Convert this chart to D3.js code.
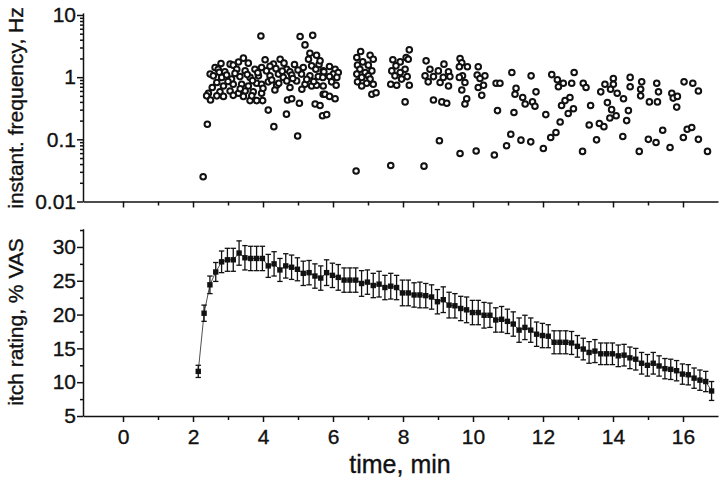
<!DOCTYPE html>
<html>
<head>
<meta charset="utf-8">
<script src="https://cdn.jsdelivr.net/npm/d3@7"></script>
<style>
body { margin: 0; background: #fff; }
svg { display: block; font-family: "Liberation Sans", Arial, sans-serif; }
.axis path, .axis line { stroke: #111; stroke-width: 1.5; }
.axis text { font-size: 21px; fill: #111; stroke: #111; stroke-width: 0.35; font-family: "Liberation Sans", Arial, sans-serif; }
.title { font-size: 21px; fill: #111; stroke: #111; stroke-width: 0.35; }
</style>
</head>
<body>
<svg width="720" height="481"></svg>
<script>
// x axis, minutes
var majorX = [0, 2, 4, 6, 8, 10, 12, 14, 16];
var minorX = [1, 3, 5, 7, 9, 11, 13, 15];

// top panel: instantaneous frequency, [time min, Hz]
var freqTicks = [0.01, 0.1, 1, 10];
var freqPoints = [
    [3.44, 2.02], [2.80, 1.66], [3.06, 1.62], [3.15, 1.56], [4.06, 1.90], [4.49, 1.94], [5.34, 2.43], [5.53, 2.25],
    [5.30, 1.94], [4.30, 1.62], [4.60, 1.68], [3.58, 1.68],
    [2.63, 1.43], [2.72, 1.34], [2.91, 1.22], [3.25, 1.34], [3.49, 1.26], [3.77, 1.34], [3.96, 1.43], [4.10, 1.26],
    [4.37, 1.37], [4.68, 1.34], [4.77, 1.22], [5.15, 1.43], [5.39, 1.52], [5.51, 1.34], [5.72, 1.26],
    [2.49, 1.12], [2.58, 1.05], [2.82, 0.99], [2.96, 1.08], [3.10, 0.93], [3.34, 1.02], [3.63, 0.99], [3.87, 1.05],
    [4.20, 1.05], [4.44, 1.12], [4.58, 0.99], [4.82, 1.08], [5.10, 1.12], [5.34, 1.05], [5.58, 1.02],
    [2.68, 0.82], [2.87, 0.72], [3.15, 0.77], [3.39, 0.77], [3.58, 0.72], [3.82, 0.80], [3.96, 0.77], [4.15, 0.84],
    [4.39, 0.74], [4.68, 0.87], [4.96, 0.87], [5.20, 0.77], [5.39, 0.72], [5.53, 0.74], [5.72, 0.72],
    [2.44, 0.55], [2.77, 0.58], [3.06, 0.60], [3.30, 0.55], [3.49, 0.60], [3.72, 0.58], [3.96, 0.55], [4.77, 0.68],
    [5.72, 0.53],
    [2.39, 0.50], [2.50, 0.43], [2.68, 0.50], [2.87, 0.49], [3.15, 0.51], [3.44, 0.49], [3.63, 0.42], [3.82, 0.42],
    [3.99, 0.42], [3.68, 0.50],
    [2.55, 0.68], [2.75, 1.20], [3.00, 0.85], [3.20, 1.15], [3.35, 0.65], [3.55, 1.10], [3.70, 0.88], [3.85, 1.18],
    [4.00, 0.66], [4.25, 0.90], [4.45, 0.80], [4.55, 1.25], [4.85, 0.95], [5.00, 1.30], [5.25, 0.92], [5.45, 0.85],
    [5.60, 1.60], [4.90, 1.60], [4.20, 1.50], [3.30, 1.75],
    [2.29, 0.025], [2.41, 0.175], [3.94, 4.6], [5.06, 4.5], [5.42, 4.7], [5.20, 3.3], [4.15, 0.295], [4.31, 0.16],
    [4.67, 0.254], [4.99, 0.113], [4.70, 0.43], [4.82, 0.45], [5.04, 0.38], [5.49, 0.37], [5.63, 0.35], [5.70, 0.24],
    [5.11, 0.64], [4.34, 0.62],
    [5.63, 1.83], [5.90, 1.48], [6.06, 1.34], [5.74, 1.22], [6.01, 1.12], [6.15, 1.19], [5.71, 0.99], [5.90, 1.02],
    [6.11, 0.99], [5.96, 0.84], [6.09, 0.74], [5.77, 0.53], [5.90, 0.49], [6.06, 0.45], [5.82, 0.25],
    [6.79, 2.58], [7.06, 2.25], [6.68, 2.07], [7.15, 1.94], [6.85, 1.76], [6.70, 1.56], [7.01, 1.56], [6.77, 1.34],
    [7.11, 1.26], [6.92, 1.19], [6.68, 1.12], [7.01, 1.05], [6.82, 0.99], [7.06, 0.93], [6.70, 0.84], [6.96, 0.80],
    [7.15, 0.77], [6.82, 0.72], [7.11, 0.53], [7.23, 0.56], [6.66, 0.031],
    [8.18, 2.75], [8.09, 2.07], [7.71, 1.90], [7.92, 1.76], [8.15, 1.94], [7.80, 1.52], [8.06, 1.34], [7.68, 1.26],
    [7.92, 1.19], [7.77, 1.05], [8.12, 1.02], [7.96, 0.93], [7.65, 0.77], [7.82, 0.74], [8.18, 0.74], [8.06, 0.40],
    [7.65, 0.038],
    [8.66, 1.83], [9.17, 1.62], [8.77, 1.34], [9.01, 1.26], [9.30, 1.22], [8.63, 1.05], [8.87, 1.02], [9.15, 0.99],
    [9.34, 1.02], [8.72, 0.84], [9.06, 0.82], [9.30, 0.72], [8.87, 0.43], [9.11, 0.40], [9.25, 0.38], [9.04, 0.095],
    [8.60, 0.037],
    [9.63, 1.99], [9.68, 1.70], [9.84, 1.47], [9.61, 1.47], [10.15, 1.47], [9.70, 1.05], [10.12, 1.08], [10.34, 1.05],
    [9.61, 0.99], [10.20, 0.95], [9.77, 0.82], [10.30, 0.74], [10.15, 0.68], [9.68, 0.62], [10.25, 0.51], [9.82, 0.45],
    [9.77, 0.37], [10.66, 0.80], [10.77, 0.80], [11.11, 1.19], [11.66, 1.05], [12.25, 1.10], [12.89, 1.19], [12.41, 0.91],
    [12.58, 0.80], [12.82, 0.80], [13.15, 0.80], [12.44, 0.70], [11.23, 0.66], [11.20, 0.53], [11.42, 0.47], [11.80, 0.58],
    [11.49, 0.37], [11.70, 0.40], [11.77, 0.34], [10.70, 0.29], [11.17, 0.27], [12.08, 0.25], [12.53, 0.35], [12.63, 0.42],
    [12.77, 0.47], [12.87, 0.31], [12.72, 0.26], [12.49, 0.19], [12.37, 0.129], [12.22, 0.107], [11.08, 0.121], [10.96, 0.079],
    [11.37, 0.097], [11.65, 0.091], [12.01, 0.071], [10.61, 0.056], [10.09, 0.065], [9.63, 0.059], [13.13, 0.064],
    [13.23, 0.68], [13.77, 0.77], [14.01, 0.95], [14.01, 0.77], [14.49, 0.99], [14.49, 0.70], [14.82, 0.84], [15.25, 0.80],
    [16.03, 0.84], [16.28, 0.80], [16.44, 0.60], [13.65, 0.58], [13.93, 0.64], [14.12, 0.55], [14.30, 0.45], [13.84, 0.39],
    [14.79, 0.64], [14.79, 0.50], [15.04, 0.40], [15.30, 0.58], [15.27, 0.40], [15.68, 0.55], [15.72, 0.46], [15.84, 0.49],
    [15.82, 0.33], [13.36, 0.35], [13.96, 0.30], [14.09, 0.24], [14.44, 0.29], [13.91, 0.22], [14.39, 0.20], [13.61, 0.18],
    [13.74, 0.16], [13.32, 0.17], [15.42, 0.14], [16.12, 0.145], [16.25, 0.155], [13.53, 0.098], [14.28, 0.111], [15.01, 0.10],
    [15.23, 0.089], [16.01, 0.107], [16.44, 0.10], [14.75, 0.064], [15.63, 0.074], [16.70, 0.064]
];

// bottom panel: itch rating (% VAS), every 10 s
var itchTicks = [5, 10, 15, 20, 25, 30];
var itchMinor = [7.5, 12.5, 17.5, 22.5, 27.5, 32.5];
var itchSec = [129, 139, 149, 159, 169, 179, 189, 199, 209, 219, 229, 239, 249, 259, 269, 279, 289, 299, 309, 319,
    329, 339, 349, 359, 369, 379, 389, 399, 409, 419, 429, 439, 449, 459, 469, 479, 489, 499, 509, 519,
    529, 539, 549, 559, 569, 579, 589, 599, 609, 619, 629, 639, 649, 659, 669, 679, 689, 699, 709, 719,
    729, 739, 749, 759, 769, 779, 789, 799, 809, 819, 829, 839, 849, 859, 869, 879, 889, 899, 909, 919,
    929, 939, 949, 959, 969, 979, 989, 999, 1009];
var itchMean = [11.6, 20.2, 24.4, 26.3, 27.8, 28.1, 28.1, 29.1, 28.4, 28.3, 28.3, 28.3, 27.2, 27.5, 26.6, 27.2, 27.0, 26.7, 26.1, 26.2,
    25.7, 25.4, 26.2, 25.8, 25.5, 25.1, 25.1, 25.1, 24.6, 24.8, 24.3, 24.5, 24.0, 24.2, 24.0, 23.2, 23.2, 22.9, 22.9, 22.8,
    22.6, 21.9, 22.2, 21.4, 21.3, 20.9, 20.7, 20.3, 20.3, 19.9, 19.9, 19.2, 19.3, 19.0, 18.6, 17.7, 18.1, 17.7, 17.1, 16.9,
    16.8, 15.9, 15.9, 15.9, 15.8, 15.3, 14.9, 14.4, 14.6, 14.2, 14.2, 14.2, 13.9, 14.0, 13.6, 13.4, 12.8, 12.5, 12.8, 12.4,
    12.0, 11.9, 11.7, 11.2, 11.1, 10.6, 10.3, 10.1, 8.7];
var itchErr = [0.9, 1.2, 1.3, 1.4, 1.6, 1.7, 1.7, 1.8, 1.8, 1.8, 1.8, 1.8, 1.7, 1.8, 1.7, 1.8, 1.8, 1.7, 1.8, 1.8,
    1.8, 1.8, 1.9, 1.8, 1.9, 1.8, 1.8, 1.8, 1.9, 1.8, 1.8, 1.9, 1.8, 1.9, 1.8, 1.9, 1.9, 1.8, 1.9, 1.8,
    1.8, 1.8, 1.9, 1.9, 1.8, 1.8, 1.9, 1.8, 1.8, 1.9, 1.8, 1.8, 1.9, 1.8, 1.8, 1.8, 1.8, 1.8, 1.8, 1.8,
    1.7, 1.7, 1.7, 1.7, 1.7, 1.6, 1.6, 1.6, 1.7, 1.6, 1.6, 1.6, 1.6, 1.6, 1.6, 1.6, 1.6, 1.6, 1.6, 1.5,
    1.5, 1.5, 1.5, 1.5, 1.5, 1.5, 1.5, 1.5, 1.4];

var svg = d3.select("svg");

var x = d3.scaleLinear()
    .domain([-1.143, 17])
    .range([83, 718]);

var yTop = d3.scaleLog()
    .domain([0.01, 10.8])
    .range([201.5, 12.9]);

var yBot = d3.scaleLinear()
    .domain([5, 32.7])
    .range([416, 228.7]);

// ---- axes ----
function xAxes(yPos, withLabels) {
    var g = svg.append("g")
        .attr("class", "axis")
        .attr("transform", "translate(0," + yPos + ")")
        .call(d3.axisBottom(x).tickValues(majorX).tickSize(6).tickSizeOuter(0).tickPadding(7)
            .tickFormat(withLabels ? function(d) { return d; } : ""));
    svg.append("g")
        .attr("class", "axis")
        .attr("transform", "translate(0," + yPos + ")")
        .call(d3.axisBottom(x).tickValues(minorX).tickSize(4).tickSizeOuter(0).tickFormat(""))
        .select(".domain").remove();
    return g;
}

xAxes(yTop(0.01), false);
xAxes(yBot(5), true);

svg.append("g")
    .attr("class", "axis")
    .attr("transform", "translate(" + x.range()[0] + ",0)")
    .call(d3.axisLeft(yTop).tickValues(freqTicks).tickSize(6).tickSizeOuter(0).tickPadding(1)
        .tickFormat(function(d) { return String(d); }));

svg.append("g")
    .attr("class", "axis")
    .attr("transform", "translate(" + x.range()[0] + ",0)")
    .call(d3.axisLeft(yTop).tickValues(yTop.ticks().filter(function(d) {
            return freqTicks.indexOf(d) < 0 && d < 10;
        })).tickSize(3).tickFormat(""))
    .select(".domain").remove();

svg.append("g")
    .attr("class", "axis")
    .attr("transform", "translate(" + x.range()[0] + ",0)")
    .call(d3.axisLeft(yBot).tickValues(itchTicks).tickSize(6).tickSizeOuter(0).tickPadding(1));

svg.append("g")
    .attr("class", "axis")
    .attr("transform", "translate(" + x.range()[0] + ",0)")
    .call(d3.axisLeft(yBot).tickValues(itchMinor).tickSize(3).tickFormat(""))
    .select(".domain").remove();

// ---- titles ----
svg.append("text")
    .attr("class", "title")
    .attr("text-anchor", "middle")
    .attr("transform", "translate(23,108) rotate(-90)")
    .text("instant. frequency, Hz");

svg.append("text")
    .attr("class", "title")
    .attr("text-anchor", "middle")
    .attr("transform", "translate(23,322) rotate(-90)")
    .text("itch rating, % VAS");

svg.append("text")
    .attr("class", "title")
    .attr("text-anchor", "middle")
    .attr("x", 400)
    .attr("y", 473)
    .style("font-size", "25px")
    .text("time, min");

// ---- top scatter ----
svg.append("g")
    .selectAll("circle")
    .data(freqPoints)
    .enter().append("circle")
    .attr("cx", function(d) { return x(d[0]); })
    .attr("cy", function(d) { return yTop(d[1]); })
    .attr("r", 2.8)
    .style("fill", "#fff")
    .style("stroke", "#111")
    .style("stroke-width", 2);

// ---- bottom series ----
var itch = itchSec.map(function(s, i) {
    return { t: s / 60, v: itchMean[i], e: itchErr[i] };
});

svg.append("path")
    .datum(itch)
    .attr("fill", "none")
    .attr("stroke", "#222")
    .attr("stroke-width", 0.8)
    .attr("d", d3.line()
        .x(function(d) { return x(d.t); })
        .y(function(d) { return yBot(d.v); }));

var bars = svg.append("g")
    .attr("stroke", "#111")
    .attr("stroke-width", 1.3)
    .selectAll("g")
    .data(itch)
    .enter().append("g");

bars.append("line")
    .attr("x1", function(d) { return x(d.t); })
    .attr("x2", function(d) { return x(d.t); })
    .attr("y1", function(d) { return yBot(d.v - d.e); })
    .attr("y2", function(d) { return yBot(d.v + d.e); });

bars.append("line")
    .attr("x1", function(d) { return x(d.t) - 2.7; })
    .attr("x2", function(d) { return x(d.t) + 2.7; })
    .attr("y1", function(d) { return yBot(d.v + d.e); })
    .attr("y2", function(d) { return yBot(d.v + d.e); });

bars.append("line")
    .attr("x1", function(d) { return x(d.t) - 2.7; })
    .attr("x2", function(d) { return x(d.t) + 2.7; })
    .attr("y1", function(d) { return yBot(d.v - d.e); })
    .attr("y2", function(d) { return yBot(d.v - d.e); });

svg.append("g")
    .selectAll("rect")
    .data(itch)
    .enter().append("rect")
    .attr("x", function(d) { return x(d.t) - 2.7; })
    .attr("y", function(d) { return yBot(d.v) - 2.7; })
    .attr("width", 5.4)
    .attr("height", 5.4)
    .style("fill", "#111");
</script>
</body>
</html>
